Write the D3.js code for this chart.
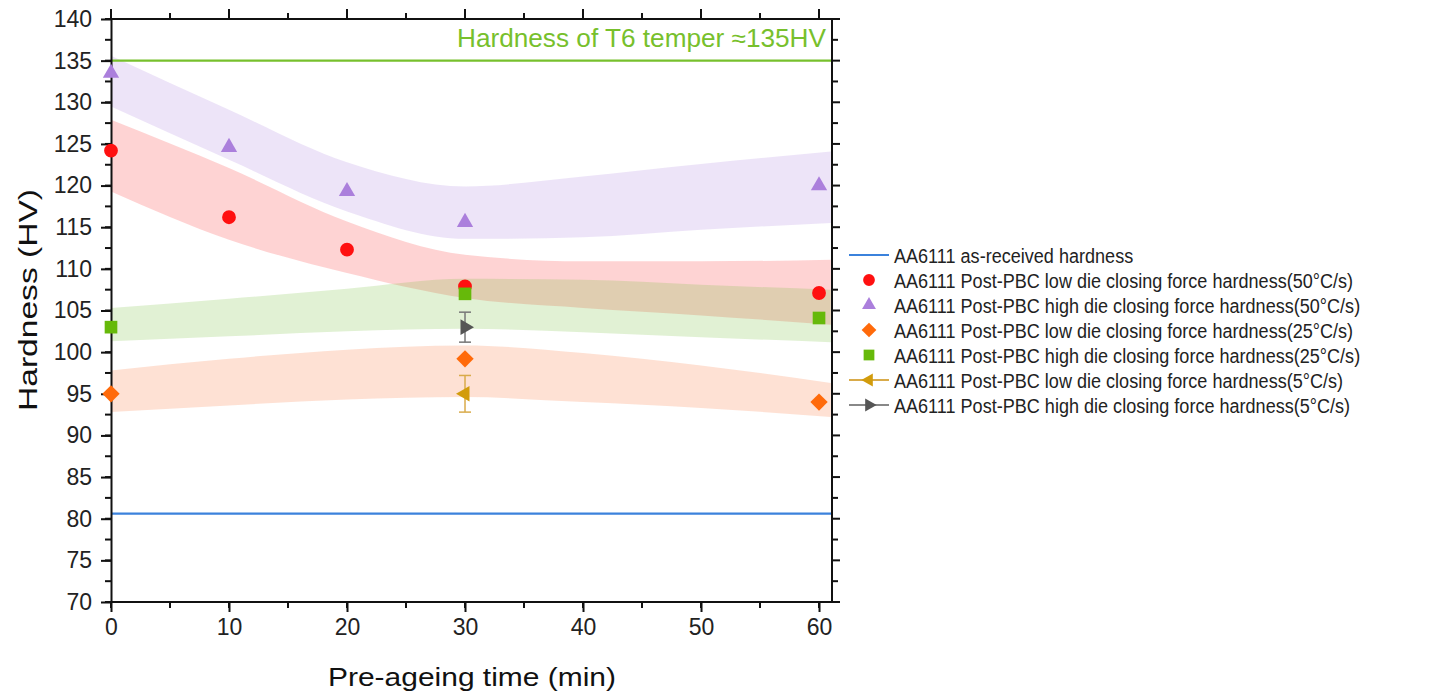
<!DOCTYPE html>
<html>
<head>
<meta charset="utf-8">
<script src="https://cdn.jsdelivr.net/npm/d3@7"></script>
<style>
    body { margin: 0; background: #fff; }
    svg { font-family: "Liberation Sans", Arial, sans-serif; }
    .axis text { font-size: 23px; fill: #222; }
    .axis path, .axis line { stroke: #111; stroke-width: 2; }
    .legend text { font-size: 21px; fill: #222; }
</style>
</head>
<body>
<div class="mainview"></div>
<script>

// data ////////////////////////////////////

const times = [0, 10, 20, 30, 60];
const lowForce50 = [124.2, 116.2, 112.3, 107.9, 107.1];
const highForce50 = [133.5, 124.6, 119.3, 115.6, 120.0];

const times25 = [0, 30, 60];
const lowForce25 = [95.0, 99.2, 94.0];
const highForce25 = [103.0, 107.0, 104.1];

const times5 = [30];
const lowForce5 = [95.0];
const lowForce5Err = [2.2];
const highForce5 = [103.0];
const highForce5Err = [1.8];

const asReceived = 80.6;
const t6Temper = 135;

// confidence bands
const bandTimes = [0, 10, 20, 30, 40, 50, 61];
const bandHigh50Upper = [135.6, 129.1, 122.8, 119.9, 121.1, 122.6, 124.1];
const bandHigh50Lower = [129.5, 123.1, 116.9, 113.6, 113.8, 114.7, 115.5];
const bandLow50Upper = [127.9, 122.1, 115.7, 111.7, 110.9, 110.9, 111.1];
const bandLow50Lower = [119.3, 113.5, 109.5, 106.5, 105.3, 104.4, 103.3];
const bandHigh25Upper = [105.3, 106.4, 107.6, 108.8, 108.7, 108.1, 107.5];
const bandHigh25Lower = [101.3, 101.9, 102.5, 102.8, 102.4, 101.8, 101.2];
const bandLow25Upper = [97.8, 99.2, 100.3, 100.8, 99.9, 98.4, 96.3];
const bandLow25Lower = [92.8, 93.6, 94.3, 94.6, 94.0, 93.3, 92.2];

const xTicks = [0, 10, 20, 30, 40, 50, 60];
const yTicks = d3.range(70, 141, 5);

const legendLabels = [
    "AA6111 as-received hardness",
    "AA6111 Post-PBC low die closing force hardness(50°C/s)",
    "AA6111 Post-PBC high die closing force hardness(50°C/s)",
    "AA6111 Post-PBC low die closing force hardness(25°C/s)",
    "AA6111 Post-PBC high die closing force hardness(25°C/s)",
    "AA6111 Post-PBC low die closing force hardness(5°C/s)",
    "AA6111 Post-PBC high die closing force hardness(5°C/s)"
];

// layout //////////////////////////////////

const dim = { width: 1443, height: 693 };
const plot = { left: 111, right: 832, top: 19, bottom: 602 };

const colors = {
    red: "#ff1010",
    purple: "#ab7fdc",
    orange: "#ff6a0a",
    green: "#66b90a",
    gold: "#d29c0c",
    gray: "#555555",
    blue: "#3b82dc",
    t6: "#77c02c"
};

const x = d3.scaleLinear()
    .domain([0, 61.1])
    .range([plot.left, plot.right]);

const y = d3.scaleLinear()
    .domain([70, 140])
    .range([plot.bottom, plot.top]);

const svg = d3.select(".mainview").append("svg")
    .attr("width", dim.width)
    .attr("height", dim.height);

// bands ///////////////////////////////////

function drawBand(upper, lower, fill, opacity) {
    const area = d3.area()
        .curve(d3.curveMonotoneX)
        .x((d, i) => x(bandTimes[i]))
        .y0((d, i) => y(lower[i]))
        .y1((d, i) => y(upper[i]));
    svg.append("path")
        .attr("d", area(bandTimes))
        .style("fill", fill)
        .style("fill-opacity", opacity);
}

drawBand(bandHigh50Upper, bandHigh50Lower, "rgb(160,110,220)", 0.19);
drawBand(bandLow50Upper, bandLow50Lower, "rgb(250,70,70)", 0.24);
drawBand(bandLow25Upper, bandLow25Lower, "rgb(250,120,60)", 0.22);
drawBand(bandHigh25Upper, bandHigh25Lower, "rgb(120,190,60)", 0.22);

// reference lines /////////////////////////

svg.append("line")
    .attr("x1", plot.left).attr("x2", plot.right)
    .attr("y1", y(t6Temper)).attr("y2", y(t6Temper))
    .style("stroke", colors.t6).style("stroke-width", 2.2);

svg.append("line")
    .attr("x1", plot.left).attr("x2", plot.right)
    .attr("y1", y(asReceived)).attr("y2", y(asReceived))
    .style("stroke", colors.blue).style("stroke-width", 2.2);

svg.append("text")
    .attr("x", 457)
    .attr("y", 47)
    .attr("textLength", 369)
    .attr("lengthAdjust", "spacingAndGlyphs")
    .style("font-size", "25px")
    .style("fill", colors.t6)
    .text("Hardness of T6 temper \u2248135HV");

// axes ////////////////////////////////////

function addAxes(g) {
    const minorX = d3.range(0, 61, 5);
    const minorY = d3.range(70, 140.1, 2.5);

    g.append("g")
        .attr("class", "axis x")
        .attr("transform", `translate(0, ${ plot.bottom })`)
        .call(d3.axisBottom(x).tickValues(xTicks).tickSize(10).tickPadding(7).tickSizeOuter(0))
        .call(g => g.select(".domain").attr("d", `M${ plot.left },0H${ plot.right }`));

    g.append("g")
        .attr("class", "axis y")
        .attr("transform", `translate(${ plot.left }, 0)`)
        .call(d3.axisLeft(y).tickValues(yTicks).tickSize(10).tickPadding(9).tickSizeOuter(0));

    // minor ticks + mirrored top/right ticks
    const ticks = g.append("g").attr("class", "axis minor");
    ticks.selectAll(".mb").data(minorX).join("line")
        .attr("x1", d => x(d)).attr("x2", d => x(d))
        .attr("y1", plot.bottom).attr("y2", plot.bottom + 6);
    ticks.selectAll(".mt").data(minorX).join("line")
        .attr("x1", d => x(d)).attr("x2", d => x(d))
        .attr("y1", plot.top).attr("y2", d => plot.top - (d % 10 === 0 ? 10 : 6));
    ticks.selectAll(".ml").data(minorY).join("line")
        .attr("x1", plot.left).attr("x2", plot.left - 6)
        .attr("y1", d => y(d)).attr("y2", d => y(d));
    ticks.selectAll(".mr").data(minorY).join("line")
        .attr("x1", plot.right).attr("x2", d => plot.right + (d % 5 === 0 ? 8 : 6))
        .attr("y1", d => y(d)).attr("y2", d => y(d));
    ticks.append("line")
        .attr("x1", plot.left - 1).attr("x2", plot.right + 1)
        .attr("y1", plot.top).attr("y2", plot.top);
    ticks.append("line")
        .attr("x1", plot.right).attr("x2", plot.right)
        .attr("y1", plot.top).attr("y2", plot.bottom + 1);

    g.append("text")
        .attr("transform", `translate(37, 411) rotate(-90)`)
        .attr("textLength", 222)
        .attr("lengthAdjust", "spacingAndGlyphs")
        .style("font-size", "26px")
        .style("fill", "#111")
        .text("Hardness (HV)");

    g.append("text")
        .attr("x", 328)
        .attr("y", 686)
        .attr("textLength", 288)
        .attr("lengthAdjust", "spacingAndGlyphs")
        .style("font-size", "26px")
        .style("fill", "#111")
        .text("Pre-ageing time (min)");
}

svg.call(addAxes);

// markers /////////////////////////////////

const sym = {
    circle: d3.symbol(d3.symbolCircle, 150)(),
    triangle: d3.symbol(d3.symbolTriangle, 115)(),
    diamond: d3.symbol(d3.symbolSquare, 150)(),
    square: d3.symbol(d3.symbolSquare, 160)(),
    arrow: d3.symbol(d3.symbolTriangle, 105)()
};

function drawPoints(X, Y, path, color, rotate) {
    svg.append("g")
        .selectAll("path")
        .data(d3.range(X.length))
        .join("path")
        .attr("d", path)
        .attr("transform", i => `translate(${ x(X[i]) }, ${ y(Y[i]) }) rotate(${ rotate })`)
        .style("fill", color);
}

function drawErrors(X, Y, E, color) {
    const g = svg.append("g").style("stroke", color).style("stroke-width", 1.5);
    X.forEach((t, i) => {
        g.append("line")
            .attr("x1", x(t)).attr("x2", x(t))
            .attr("y1", y(Y[i] - E[i])).attr("y2", y(Y[i] + E[i]));
        [Y[i] - E[i], Y[i] + E[i]].forEach(v => {
            g.append("line")
                .attr("x1", x(t) - 6).attr("x2", x(t) + 6)
                .attr("y1", y(v)).attr("y2", y(v));
        });
    });
}

drawPoints(times, lowForce50, sym.circle, colors.red, 0);
drawPoints(times, highForce50, sym.triangle, colors.purple, 0);
drawPoints(times25, lowForce25, sym.diamond, colors.orange, 45);
drawPoints(times25, highForce25, sym.square, colors.green, 0);
drawErrors(times5, lowForce5, lowForce5Err, "#d9ab4a");
drawPoints(times5, lowForce5, sym.arrow, colors.gold, -90);
drawErrors(times5, highForce5, highForce5Err, "#777");
drawPoints(times5, highForce5, sym.arrow, colors.gray, 90);

// legend //////////////////////////////////

const legend = svg.append("g").attr("class", "legend");
const legendRows = d3.scaleLinear().domain([0, 6]).range([255, 405]);
const legendMarks = [
    { line: colors.blue },
    { path: sym.circle, color: colors.red, rotate: 0 },
    { path: sym.triangle, color: colors.purple, rotate: 0 },
    { path: sym.diamond, color: colors.orange, rotate: 45 },
    { path: sym.square, color: colors.green, rotate: 0 },
    { line: "#d9ab4a", path: sym.arrow, color: colors.gold, rotate: -90 },
    { line: "#888", path: sym.arrow, color: colors.gray, rotate: 90 }
];

legendLabels.forEach((label, i) => {
    const cy = legendRows(i);
    const m = legendMarks[i];
    if (m.line) {
        legend.append("line")
            .attr("x1", 849).attr("x2", 889)
            .attr("y1", cy).attr("y2", cy)
            .style("stroke", m.line).style("stroke-width", 2);
    }
    if (m.path) {
        legend.append("path")
            .attr("d", m.path)
            .attr("transform", `translate(869, ${ cy }) rotate(${ m.rotate }) scale(0.85)`)
            .style("fill", m.color);
    }
    legend.append("text")
        .attr("transform", `translate(894, ${ cy + 7.5 }) scale(0.86, 1)`)
        .text(label);
});

</script>
</body>
</html>
